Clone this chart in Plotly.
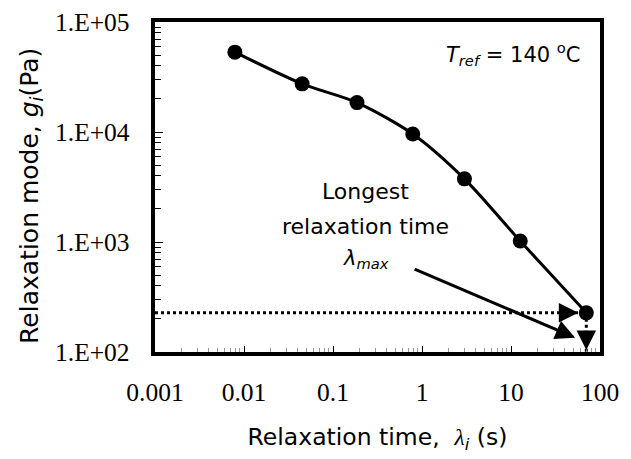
import math
import plotly.graph_objects as go

# Data
relax_time = [0.0079, 0.045, 0.186, 0.787, 3.0, 12.7, 70.2]     # lambda_i (s)
relax_mode = [53200, 27400, 18500, 9600, 3750, 1020, 227]        # g_i (Pa)

y_tickvals = [1e2, 1e3, 1e4, 1e5]
y_ticktext = ["1.E+02", "1.E+03", "1.E+04", "1.E+05"]
x_tickvals = [0.001, 0.01, 0.1, 1, 10, 100]
x_ticktext = ["0.001", "0.01", "0.1", "1", "10", "100"]

x_min, x_max = 0.001, 100
y_min, y_max = 1e2, 1e5

lam_max = relax_time[-1]
g_max = relax_mode[-1]

x_minor = [m * 10 ** e for e in range(-3, 2) for m in range(2, 10)]
y_minor = [m * 10 ** e for e in range(2, 5) for m in range(2, 10)]

fig = go.Figure()

# dotted guide lines to the longest relaxation time
fig.add_trace(go.Scatter(x=[x_min, lam_max], y=[g_max, g_max], mode="lines",
                         line=dict(color="black", width=3, dash="dot"),
                         hoverinfo="skip", showlegend=False))
fig.add_trace(go.Scatter(x=[lam_max, lam_max], y=[g_max, y_min], mode="lines",
                         line=dict(color="black", width=3, dash="dot"),
                         hoverinfo="skip", showlegend=False))

fig.add_trace(go.Scatter(x=relax_time, y=relax_mode, mode="lines+markers",
                         line=dict(color="black", width=3, shape="spline", smoothing=0.8),
                         marker=dict(color="black", size=15),
                         showlegend=False))

sans = "DejaVu Sans"
serif = "Liberation Serif"

axis_common = dict(showline=True, linecolor="black", linewidth=4, mirror=True,
                   showgrid=False, zeroline=False, ticks="inside",
                   tickcolor="black", tickwidth=1)

fig.update_xaxes(type="log", range=[math.log10(x_min), math.log10(x_max)],
                 tickvals=x_tickvals, ticktext=x_ticktext, ticklen=6,
                 ticklabelstandoff=14,
                 tickfont=dict(family=serif, size=25.5, color="black"),
                 minor=dict(tickvals=x_minor, ticks="inside", ticklen=4,
                            tickcolor="#999", tickwidth=1),
                 title=dict(text="Relaxation time,  <span style='font-family:Liberation Serif'><i>λ</i></span><sub><i>i</i></sub> (s)",
                            font=dict(family=sans, size=23.5, color="black"), standoff=24),
                 **axis_common)
fig.update_yaxes(type="log", range=[math.log10(y_min), math.log10(y_max)],
                 tickvals=y_tickvals, showticklabels=False, ticklen=8,
                 minor=dict(tickvals=y_minor, ticks="inside", ticklen=6,
                            tickcolor="black", tickwidth=1),
                 **axis_common)

annotations = []
# y tick labels placed left of the axis
for v, t in zip(y_tickvals, y_ticktext):
    annotations.append(dict(xref="paper", yref="y", x=0, y=math.log10(v),
                            xanchor="right", yanchor="middle", xshift=-23,
                            text=t, showarrow=False,
                            font=dict(family=serif, size=25.5, color="black")))
# y axis title
annotations.append(dict(xref="paper", yref="paper", x=0, y=0.473, xshift=-124,
                        xanchor="center", yanchor="middle", textangle=-90,
                        text="Relaxation mode, <i>g</i><sub><i>i</i></sub>(Pa)",
                        showarrow=False, font=dict(family=sans, size=25, color="black")))

annotations += [
    dict(xref="paper", yref="paper", x=0.96, y=0.903, xanchor="right", yanchor="middle",
         text="<i>T</i><sub><i>ref</i></sub> = 140 <sup>o</sup>C", showarrow=False,
         font=dict(family=sans, size=21, color="black")),
    dict(xref="paper", yref="paper", x=0.473, y=0.487, text="Longest", showarrow=False,
         font=dict(family=sans, size=22, color="black")),
    dict(xref="paper", yref="paper", x=0.473, y=0.38, text="relaxation time", showarrow=False,
         font=dict(family=sans, size=22, color="black")),
    dict(xref="paper", yref="paper", x=0.475, y=0.237, text="<i>λ</i><sub><i>max</i></sub>",
         showarrow=False, font=dict(family=sans, size=21, color="black")),
    # arrow from the label
    dict(xref="x", yref="y", axref="x", ayref="y",
         x=1.72, y=2.13, ax=-0.10, ay=2.76, text="", showarrow=True,
         arrowhead=2, arrowsize=1.3, arrowwidth=3, arrowcolor="black"),
    # arrowheads on the dotted guides
    dict(xref="x", yref="y", x=math.log10(lam_max), y=math.log10(g_max),
         ax=-18, ay=0, text="", showarrow=True, standoff=8,
         arrowhead=2, arrowsize=1.3, arrowwidth=3, arrowcolor="black"),
    dict(xref="x", yref="y", x=math.log10(lam_max), y=math.log10(y_min),
         ax=0, ay=-18, text="", showarrow=True, standoff=2,
         arrowhead=2, arrowsize=1.3, arrowwidth=3, arrowcolor="black"),
]

fig.update_layout(width=631, height=459, margin=dict(l=155, r=22, t=22, b=101),
                  plot_bgcolor="white", paper_bgcolor="white",
                  annotations=annotations, showlegend=False)

fig.write_html("out.html")
